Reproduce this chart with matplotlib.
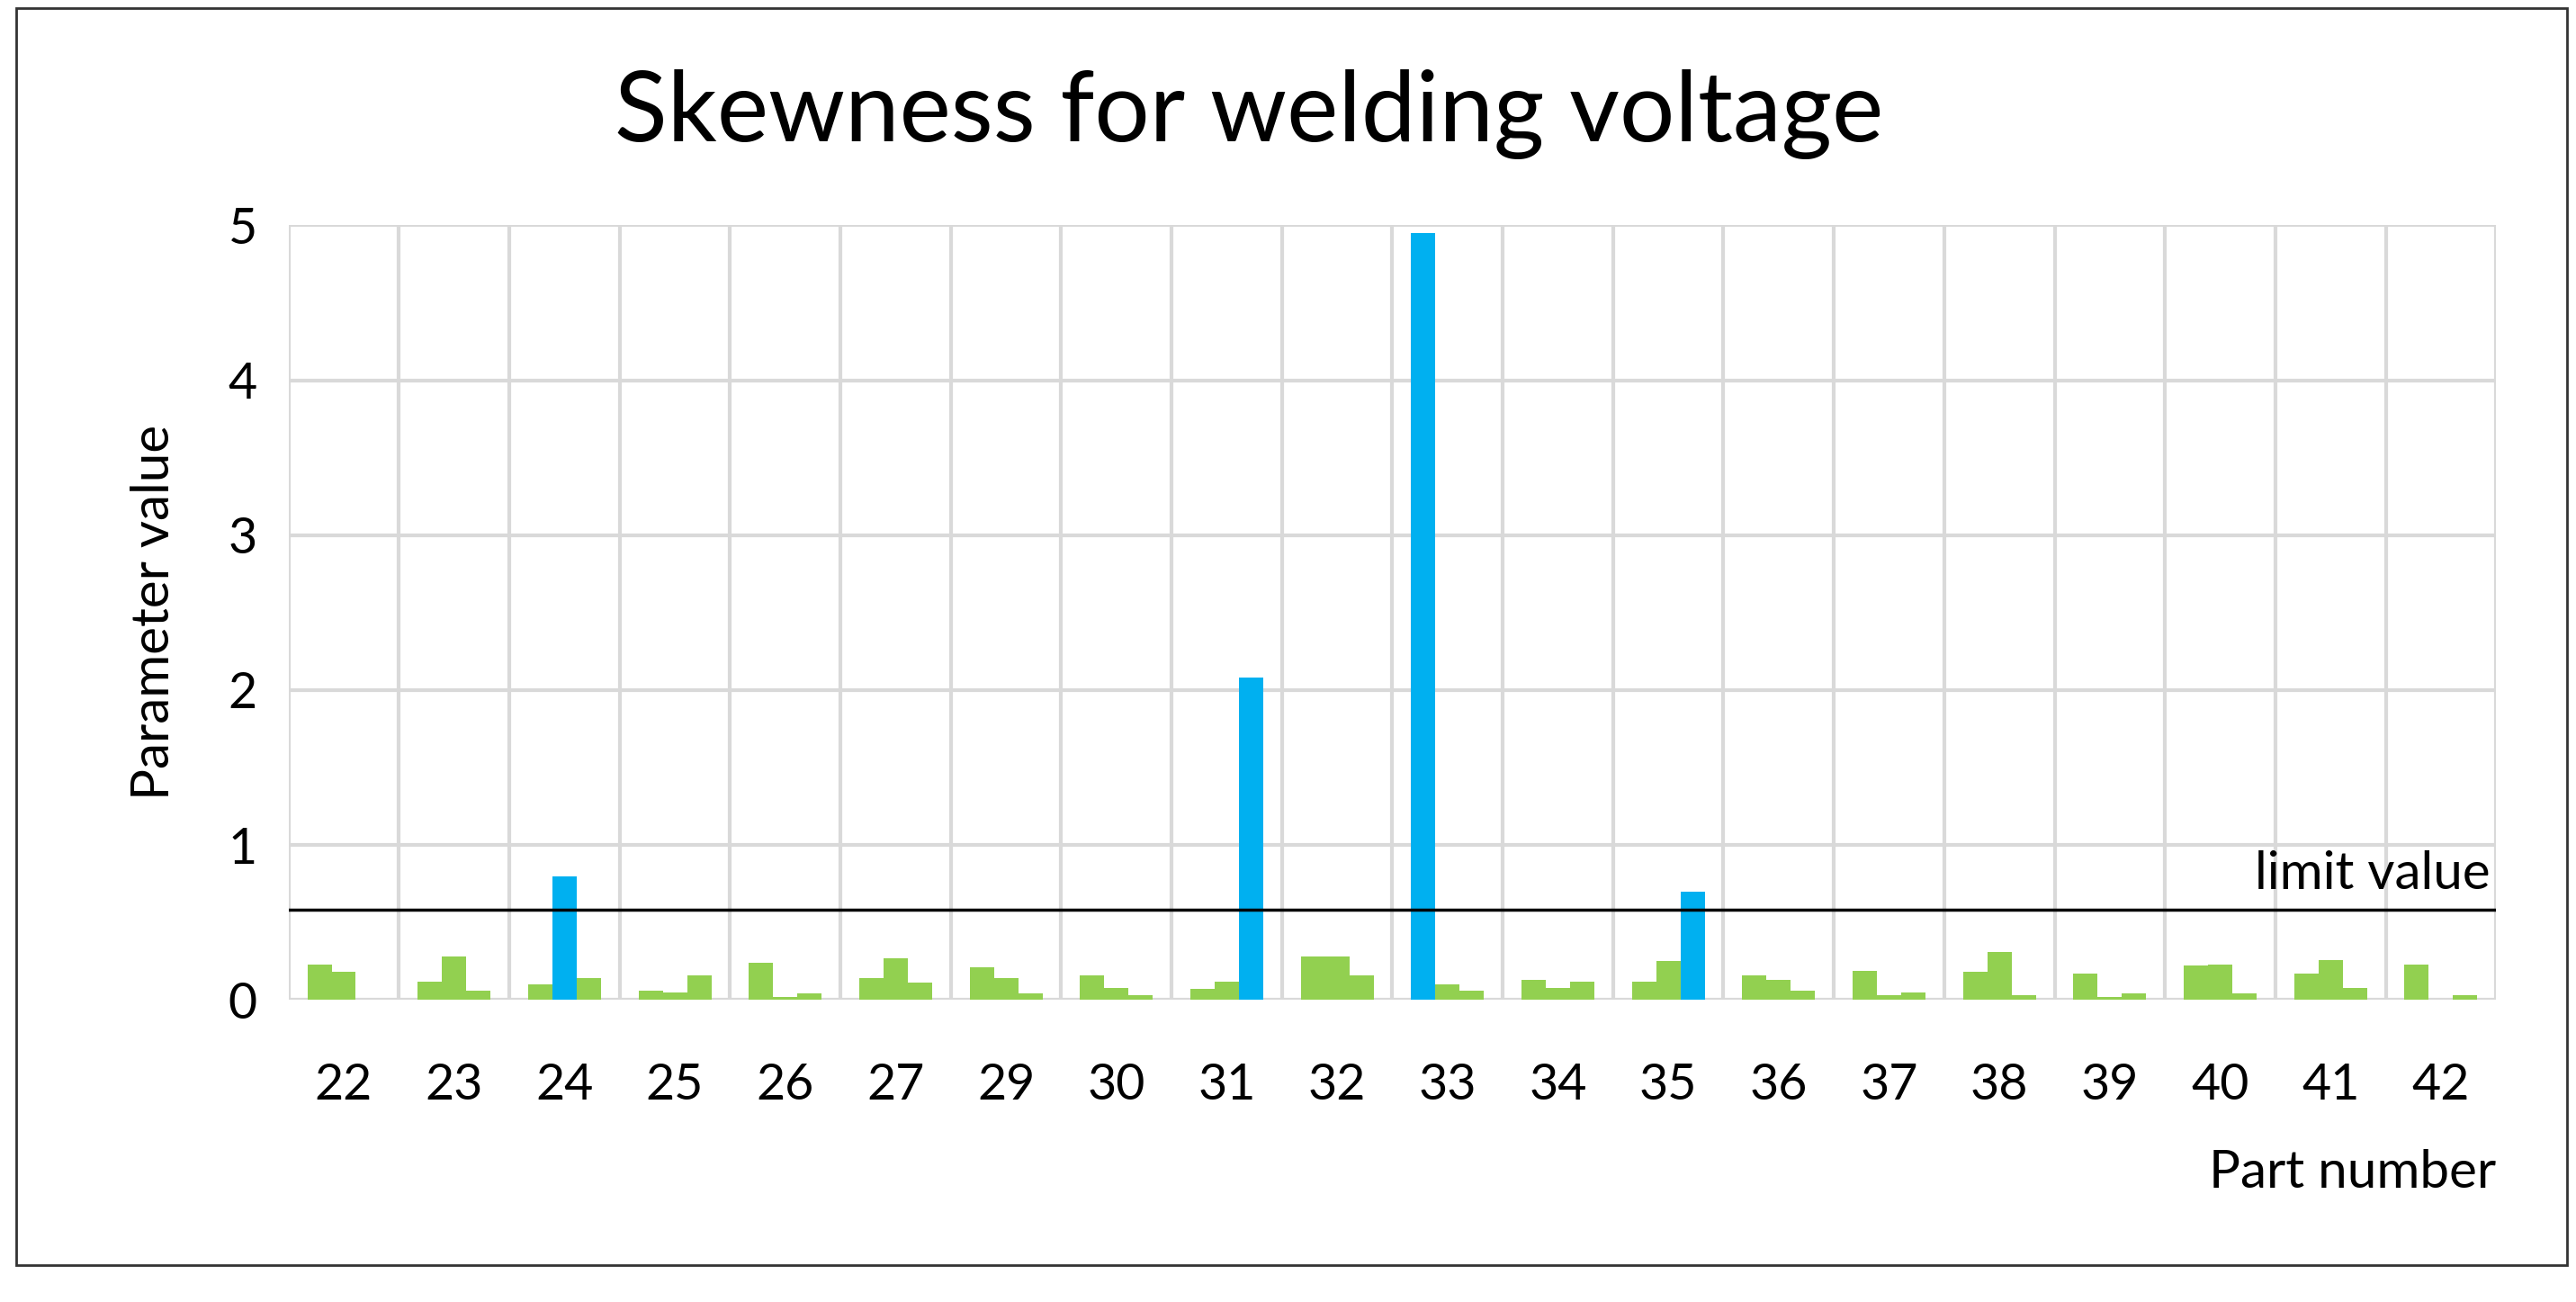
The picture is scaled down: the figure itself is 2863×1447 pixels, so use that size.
import matplotlib
matplotlib.use("Agg")
import matplotlib.pyplot as plt
import numpy as np
from matplotlib.patches import Rectangle

parts = ["22","23","24","25","26","27","29","30","31","32","33","34","35","36","37","38","39","40","41","42"]
s1 = [0.23,0.12,0.10,0.06,0.24,0.14,0.21,0.16,0.07,0.28,4.95,0.13,0.12,0.16,0.19,0.18,0.17,0.22,0.17,0.23]
s2 = [0.18,0.28,0.80,0.05,0.02,0.27,0.14,0.08,0.12,0.28,0.10,0.08,0.25,0.13,0.03,0.31,0.02,0.23,0.26,0.00]
s3 = [0.00,0.06,0.14,0.16,0.04,0.11,0.04,0.03,2.08,0.16,0.06,0.12,0.70,0.06,0.05,0.03,0.04,0.04,0.08,0.03]
limit = 0.58

plt.rcParams['font.family'] = ['Lato', 'DejaVu Sans']
fig = plt.figure(figsize=(28.63, 14.47), dpi=100)
ax = fig.add_axes([0.112, 0.232, 0.857, 0.595])
green, blue = "#92d050", "#00b0f0"
x = np.arange(len(parts))
w = 0.22
for off, s in zip([-1, 0, 1], [s1, s2, s3]):
    cols = [blue if v > limit else green for v in s]
    ax.bar(x + off * w, s, width=w, color=cols, zorder=3)
ax.axhline(limit, color="black", lw=2.5, zorder=4)
ax.text(19.45, limit + 0.08, "limit value", ha="right", va="bottom", fontsize=42)

ax.set_xlim(-0.5, len(parts) - 0.5)
ax.set_ylim(0, 5)
ax.set_yticks(range(6))
ax.set_xticks(x)
ax.set_xticklabels(parts)
ax.set_xticks(np.arange(-0.5, len(parts), 1), minor=True)
ax.grid(True, axis="y", which="major", color="#d9d9d9", lw=3, zorder=0)
ax.grid(True, axis="x", which="minor", color="#d9d9d9", lw=3, zorder=0)
ax.tick_params(axis="both", which="both", length=0, labelsize=40)
ax.tick_params(axis="x", pad=50)
ax.tick_params(axis="y", pad=25)
for sp in ax.spines.values():
    sp.set_visible(False)
ax.set_ylabel("Parameter value", fontsize=42, labelpad=40)
fig.text(0.969, 0.099, "Part number", ha="right", va="center", fontsize=42)
fig.text(0.485, 0.912, "Skewness for welding voltage", ha="center", va="center", fontsize=78)
fig.patches.append(Rectangle((0.0064, 0.028), 0.99, 0.966, transform=fig.transFigure,
                             fill=False, edgecolor="#333333", lw=2))
fig.savefig("out.png", dpi=100)
